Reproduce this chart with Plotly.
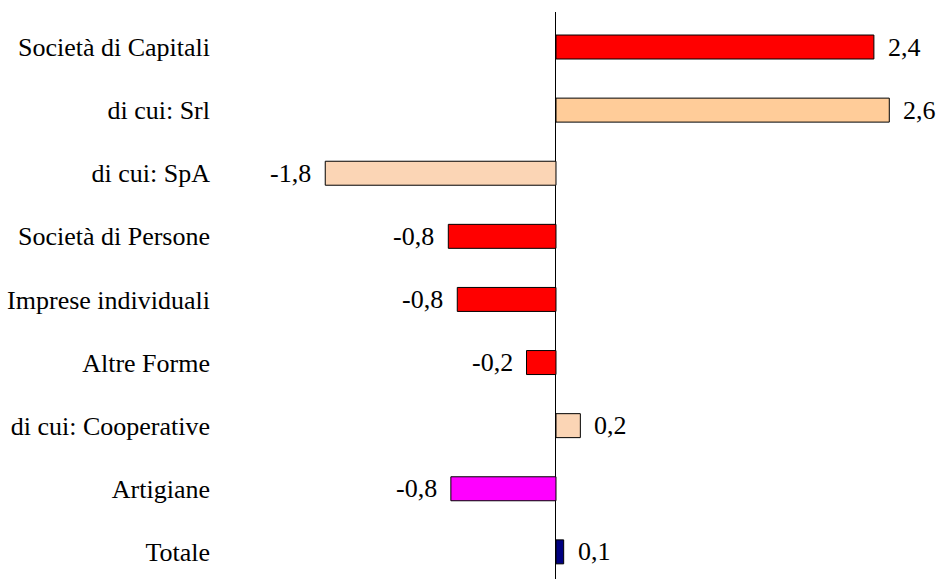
import plotly.graph_objects as go

categories = ["Società di Capitali", "di cui: Srl", "di cui: SpA", "Società di Persone",
              "Imprese individuali", "Altre Forme", "di cui: Cooperative", "Artigiane", "Totale"]
values = [2.48, 2.6, -1.8, -0.84, -0.77, -0.23, 0.19, -0.82, 0.06]
value_labels = ["2,4", "2,6", "-1,8", "-0,8", "-0,8", "-0,2", "0,2", "-0,8", "0,1"]
bar_colors = ["#FF0000", "#FFCC99", "#FBD5B5", "#FF0000", "#FF0000", "#FF0000",
              "#FBD5B5", "#FF00FF", "#000080"]

FONT = "Liberation Serif"
FS = 26

fig = go.Figure()
fig.add_trace(go.Bar(
    y=categories, x=values, orientation="h",
    marker=dict(color=bar_colors, line=dict(color="black", width=1)),
    width=0.38, hoverinfo="skip",
))

for c, v, t in zip(categories, values, value_labels):
    fig.add_annotation(
        x=v, y=c, text=t, showarrow=False,
        xanchor="left" if v >= 0 else "right",
        xshift=12 if v >= 0 else -12,
        font=dict(family=FONT, size=FS, color="black"),
    )

fig.update_layout(
    width=938, height=579,
    margin=dict(l=215, r=10, t=12, b=0, autoexpand=False),
    paper_bgcolor="white", plot_bgcolor="white",
    showlegend=False,
    font=dict(family=FONT, size=FS, color="black"),
    xaxis=dict(range=[-2.66, 2.902], showgrid=False, showticklabels=False, ticks="",
               zeroline=True, zerolinecolor="black", zerolinewidth=1.2, showline=False),
    yaxis=dict(categoryorder="array", categoryarray=categories, range=[8.43, -0.555],
               showgrid=False, ticks="", showline=False, ticklabelstandoff=4,
               tickfont=dict(family=FONT, size=FS, color="black")),
)

fig.write_html("out.html", config={"displayModeBar": False},
               post_script="document.body.style.margin='0px';document.body.style.overflow='hidden';")
